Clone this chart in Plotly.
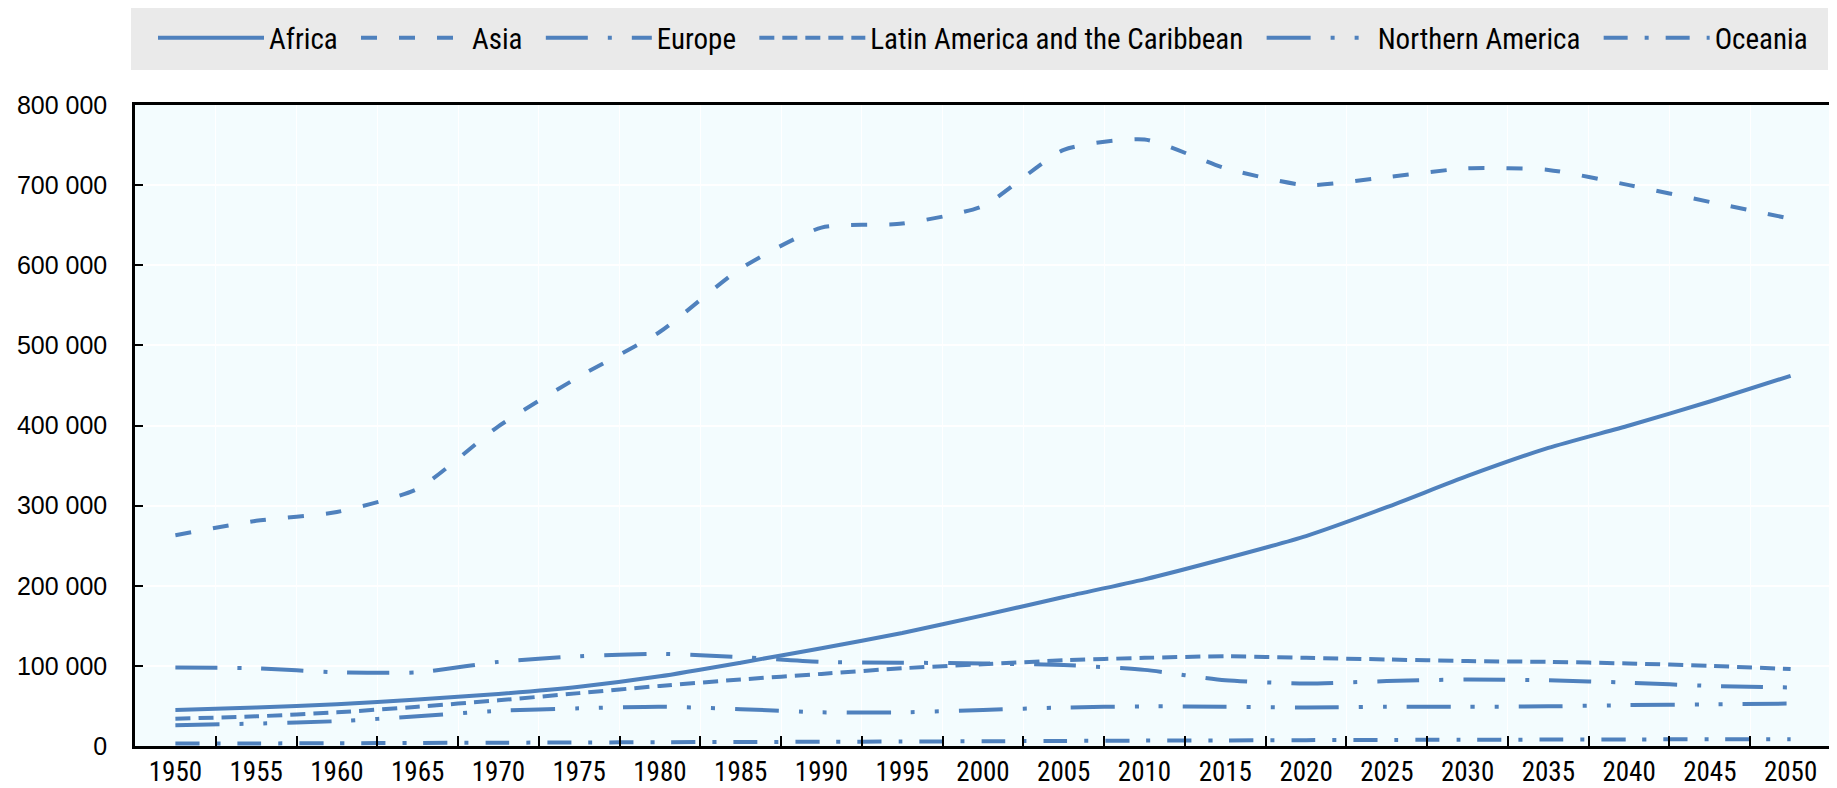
import plotly.graph_objects as go

years = [str(y) for y in range(1950, 2051, 5)]

africa = [45, 48, 52, 58, 65, 74, 87, 104, 122, 141, 163, 186, 208, 234, 262, 298, 337, 372, 400, 430, 462]
asia = [263, 281, 292, 321, 399, 461, 517, 596, 647, 652, 674, 744, 757, 721, 700, 710, 721, 719, 700, 679, 658]
europe = [98, 97, 92, 92, 105, 112, 115, 111, 105, 104, 103, 101, 95, 82, 78, 81, 83, 82, 79, 75, 73]
latam = [34, 37, 42, 49, 57, 66, 75, 83, 90, 97, 102, 107, 110, 112, 110, 108, 106, 105, 103, 100, 96]
namerica = [26, 28, 31, 37, 44, 47, 49, 46, 42, 42, 45, 48, 49.5, 49, 48, 49, 49, 49.5, 51, 52, 53]
oceania = [3.0, 3.2, 3.5, 3.8, 4.1, 4.4, 4.7, 5.0, 5.3, 5.6, 5.9, 6.3, 6.7, 7.0, 7.3, 7.6, 7.8, 8.0, 8.2, 8.4, 8.5]

series_names = ["Africa", "Asia", "Europe", "Latin America and the Caribbean", "Northern America", "Oceania"]
series_values = [africa, asia, europe, latam, namerica, oceania]
series_dash = ["solid", "16px,22px", "42px,20px,4px,20px", "15px,8px",
               "44px,20px,4px,20px,4px,20px", "24px,17px,4px,17px"]

BLUE = "#4F81BD"
NARROW = "Liberation Sans Narrow, Arial Narrow, Roboto Condensed, Roboto, sans-serif"
REGULAR = "Liberation Sans, Arial, sans-serif"
PAD = "\u00a0\u00a0"

fig = go.Figure()
for i, (name, vals, dash) in enumerate(zip(series_names, series_values, series_dash)):
    label = name + (PAD if i < len(series_names) - 1 else "")
    fig.add_trace(go.Scatter(
        x=years, y=[v * 1000 for v in vals], name=label, mode="lines",
        line=dict(color=BLUE, width=4, dash=dash, shape="spline", smoothing=0.6),
    ))

# page body has an 8px default margin, so the figure is offset by 8px
W, H = 1829, 780
L, R, T, B = 127, 6, 97, 42
ph = H - T - B
pw = W - L - R

fig.add_shape(type="rect", xref="paper", yref="paper",
              x0=-4 / pw, x1=(1820 - L) / pw, y0=(H - B - 62) / ph, y1=(H - B) / ph,
              fillcolor="#EAEAEA", line=dict(width=0), layer="below")

fig.update_layout(
    width=W, height=H,
    margin=dict(l=L, r=R, t=T, b=B, autoexpand=False),
    paper_bgcolor="white",
    plot_bgcolor="#F3FCFE",
    separators=". ",
    showlegend=True,
    legend=dict(
        orientation="h", xref="container", yref="container",
        x=145 / W, xanchor="left", y=1 - 30 / H, yanchor="middle",
        bgcolor="rgba(0,0,0,0)", font=dict(family=NARROW, size=29, color="black"),
        itemwidth=106, traceorder="normal",
    ),
    xaxis=dict(
        type="category", range=[-0.5, 20.5], tickson="boundaries", automargin=False,
        ticks="inside", ticklen=10, tickwidth=2, tickcolor="black",
        showline=True, linecolor="black", linewidth=2.5, mirror=True,
        showgrid=True, gridcolor="white", gridwidth=1,
        tickfont=dict(family=NARROW, size=27, color="black"),
    ),
    yaxis=dict(
        range=[0, 800000], dtick=100000, tickformat=",d", automargin=False,
        ticks="inside", ticklen=8, tickwidth=2, tickcolor="black",
        showline=True, linecolor="black", linewidth=2.5, mirror=True,
        showgrid=True, gridcolor="white", gridwidth=2, zeroline=False,
        tickfont=dict(family=REGULAR, size=25, color="black"),
        ticklabelstandoff=20,
    ),
)

fig.write_html("out.html")
